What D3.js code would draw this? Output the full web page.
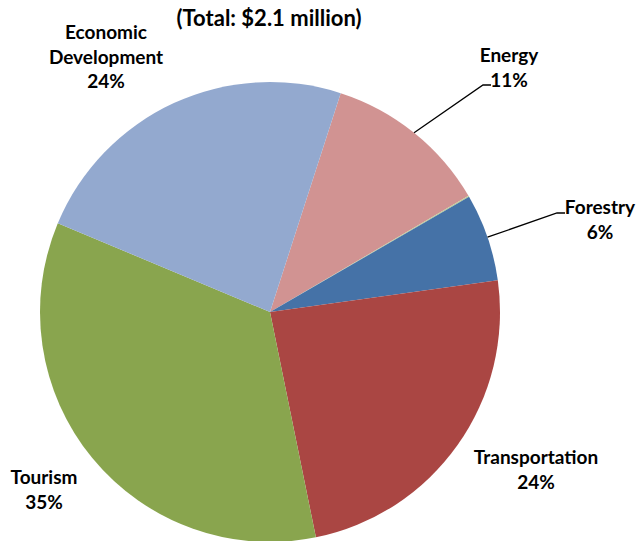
<!DOCTYPE html>
<html><head><meta charset="utf-8">
<script src="https://cdn.jsdelivr.net/npm/d3@7"></script>
<style>body{margin:0;background:#fff}</style>
</head><body>
<script>
const categories = ["Energy", "Other", "Forestry", "Transportation", "Tourism", "Economic Development"];
const values = [11.6, 0.08, 6.15, 24.0, 34.5, 23.67];
const pctLabels = ["11%", "", "6%", "24%", "35%", "24%"];
const colors = ["#d19392", "#b9cd96", "#4572a7", "#aa4643", "#89a54e", "#93a9cf"];
const title = "(Total: $2.1 million)";

const W = 638, H = 541, cx = 270, cy = 312, R = 230;
const svg = d3.select("body").append("svg").attr("width", W).attr("height", H);
const font = "Lato, 'Open Sans', sans-serif";

svg.append("text").attr("x", 269).attr("y", 26).attr("text-anchor", "middle")
  .attr("font-family", font).attr("font-weight", "bold").attr("font-size", 22).attr("fill", "#000").text(title);

const startA = 17.9 * Math.PI / 180;
const pie = d3.pie().sort(null).value(d => d).startAngle(startA).endAngle(startA + 2 * Math.PI);
const arcs = pie(values);
const arc = d3.arc().innerRadius(0).outerRadius(R);
const g = svg.append("g").attr("transform", `translate(${cx},${cy})`);
g.selectAll("path").data(arcs).join("path").attr("d", arc).attr("fill", (d, i) => colors[i]);

// label layout (positions of label blocks)
const labelPos = {
  "Energy": {x: 509, y: 62, lines: ["Energy"]},
  "Forestry": {x: 600, y: 214, lines: ["Forestry"]},
  "Transportation": {x: 536, y: 464, lines: ["Transportation"]},
  "Tourism": {x: 44, y: 484, lines: ["Tourism"]},
  "Economic Development": {x: 106, y: 39, lines: ["Economic", "Development"]}
};
const lh = 24.7;
categories.forEach((c, i) => {
  const p = labelPos[c];
  if (!p) return;
  const t = svg.append("text").attr("text-anchor", "middle").attr("font-family", font)
    .attr("font-weight", "bold").attr("font-size", 19).attr("fill", "#000");
  const lines = p.lines.concat([pctLabels[i]]);
  lines.forEach((l, k) => t.append("tspan").attr("x", p.x).attr("y", p.y + k * lh).text(l));
});

// leader lines
const leaders = {"Energy": [[483, 85], [491, 85]], "Forestry": [[557, 213], [565, 213]]};
const a2 = d3.arc().innerRadius(R).outerRadius(R);
categories.forEach((c, i) => {
  if (!leaders[c]) return;
  const [px, py] = a2.centroid(arcs[i]);
  const pts = [[cx + px, cy + py]].concat(leaders[c]);
  svg.append("path").attr("d", d3.line()(pts)).attr("fill", "none").attr("stroke", "#000").attr("stroke-width", 1.3);
});
</script>
</body></html>
